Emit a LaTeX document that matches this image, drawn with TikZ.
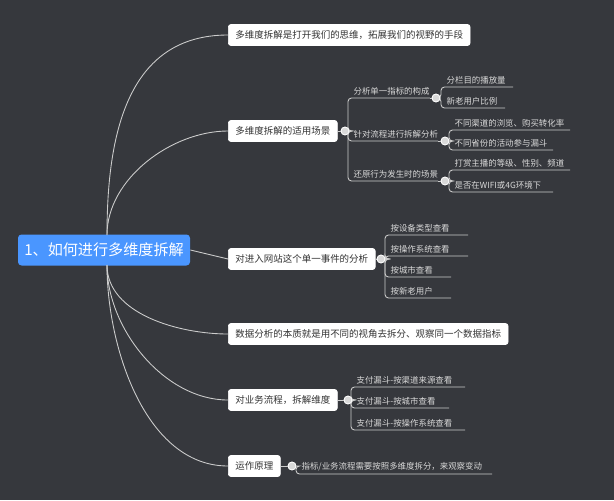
\documentclass[tikz,border=0pt]{standalone}
\usepackage{fontspec}
\newfontfamily\cjk{Noto Sans CJK SC}
\begin{document}
\begin{tikzpicture}[x=0.02cm,y=-0.02cm,%
% common options for the main boxes:
topic/.style = {draw=white, fill=white, rounded corners=1.5pt, anchor=west,
            text=black!80, font=\cjk\fontsize{5.4}{6}\selectfont,
            minimum height=0.42cm, inner xsep=4pt},
% common options for the leaves:
leaf/.style = {anchor=south west, text=white!85!black, inner xsep=3pt, inner ysep=1.5pt,
            font=\cjk\fontsize{4.8}{5.5}\selectfont},
% common options for the collapse circles:
knob/.style = {circle, draw=white, fill=white!85!black, inner sep=0, minimum size=4.5pt},
conn/.style = {draw=white!80!black, line width=0.5pt},
bracket/.style = {conn, rounded corners=2pt}]
\fill[black!75!blue!30!gray, fill={rgb,255:red,54;green,56;blue,61}] (0,0) rectangle (614,500);
% root
\node[fill={rgb,255:red,74;green,150;blue,255}, rounded corners=2pt, text=white,
      font=\cjk\fontsize{8.6}{10}\selectfont, minimum width=172*0.02cm,
      minimum height=0.62cm] (root) at (104,250) {1、如何进行多维度拆解};
\coordinate (rt) at (107,235);
\coordinate (rb) at (107,265);
% main topics
\node[topic] (T1) at (228,35)  {多维度拆解是打开我们的思维，拓展我们的视野的手段};
\node[topic] (T2) at (228,131) {多维度拆解的适用场景};
\node[topic] (T3) at (228,259) {对进入网站这个单一事件的分析};
\node[topic] (T4) at (228,334) {数据分析的本质就是用不同的视角去拆分、观察同一个数据指标};
\node[topic] (T5) at (228,400) {对业务流程，拆解维度};
\node[topic] (T6) at (228,466) {运作原理};
\draw[conn] (rt) to[out=90,in=180,looseness=1.1] (T1.west);
\draw[conn] (rt) to[out=90,in=180,looseness=0.9] (T2.west);
\draw[conn] (root.east) -- (T3.west);
\draw[conn] (rb) to[out=-90,in=180,looseness=0.9] (T4.west);
\draw[conn] (rb) to[out=-90,in=180,looseness=0.9] (T5.west);
\draw[conn] (rb) to[out=-90,in=180,looseness=0.9] (T6.west);
% knobs
\node[knob] (K2) at (345,131) {};
\node[knob] (K3) at (381,259) {};
\node[knob] (K5) at (348,400) {};
\node[knob] (K6) at (292,466) {};
% second level under T2
\node[leaf] (A1) at (348,98)  {分析单一指标的构成};
\node[leaf] (A2) at (348,141) {针对流程进行拆解分析};
\node[leaf] (A3) at (348,181) {还原行为发生时的场景};
\coordinate (A1e) at (430,98);
\coordinate (A2e) at (438,141);
\coordinate (A3e) at (438,181);
\node[knob] (KA1) at (436,98) {};
\node[knob] (KA2) at (445,141) {};
\node[knob] (KA3) at (445,181) {};
% third level
\node[leaf] (B1) at (441,87)  {分栏目的播放量};
\node[leaf] (B2) at (441,108) {新老用户比例};
\node[leaf] (B3) at (449,130) {不同渠道的浏览、购买转化率};
\node[leaf] (B4) at (449,150) {不同省份的活动参与漏斗};
\node[leaf] (B5) at (449,170) {打赏主播的等级、性别、频道};
\node[leaf] (B6) at (449,192) {是否在WIFI或4G环境下};
\coordinate (B1e) at (513,87);
\coordinate (B2e) at (505,108);
\coordinate (B3e) at (570,130);
\coordinate (B4e) at (553,150);
\coordinate (B5e) at (570,170);
\coordinate (B6e) at (553,192);
% leaves under T3
\node[leaf] (C1) at (385,235) {按设备类型查看};
\node[leaf] (C2) at (385,256) {按操作系统查看};
\node[leaf] (C3) at (385,277) {按城市查看};
\node[leaf] (C4) at (385,298) {按新老用户};
\coordinate (C1e) at (468,235);
\coordinate (C2e) at (468,256);
\coordinate (C3e) at (451,277);
\coordinate (C4e) at (451,298);
% leaves under T5
\node[leaf] (D1) at (351,387) {支付漏斗-按渠道来源查看};
\node[leaf] (D2) at (351,408) {支付漏斗-按城市查看};
\node[leaf] (D3) at (351,430) {支付漏斗-按操作系统查看};
\coordinate (D1e) at (465,387);
\coordinate (D2e) at (449,408);
\coordinate (D3e) at (465,430);
% leaf under T6
\node[leaf] (E1) at (296,474) {指标/业务流程需要按照多维度拆分，来观察变动};
\coordinate (E1e) at (492,474);
% brackets
\foreach \k/\l in {K2/A1,K2/A2,K2/A3,KA1/B1,KA1/B2,KA2/B3,KA2/B4,KA3/B5,KA3/B6,
                   K3/C1,K3/C2,K3/C3,K3/C4,K5/D1,K5/D2,K5/D3,K6/E1}
  \draw[bracket] (\k.east) -| (\l.south west) -- (\l e);
% redraw knobs on top
\foreach \k in {K2,K3,K5,K6,KA1,KA2,KA3}
  \node[knob] at (\k) {};
\draw[conn] (T2.east) -- (K2.west);
\draw[conn] (T3.east) -- (K3.west);
\draw[conn] (T5.east) -- (K5.west);
\draw[conn] (T6.east) -- (K6.west);
\draw[conn] (A1e) -- (KA1.west);
\draw[conn] (A2e) -- (KA2.west);
\draw[conn] (A3e) -- (KA3.west);
\end{tikzpicture}
\end{document}
